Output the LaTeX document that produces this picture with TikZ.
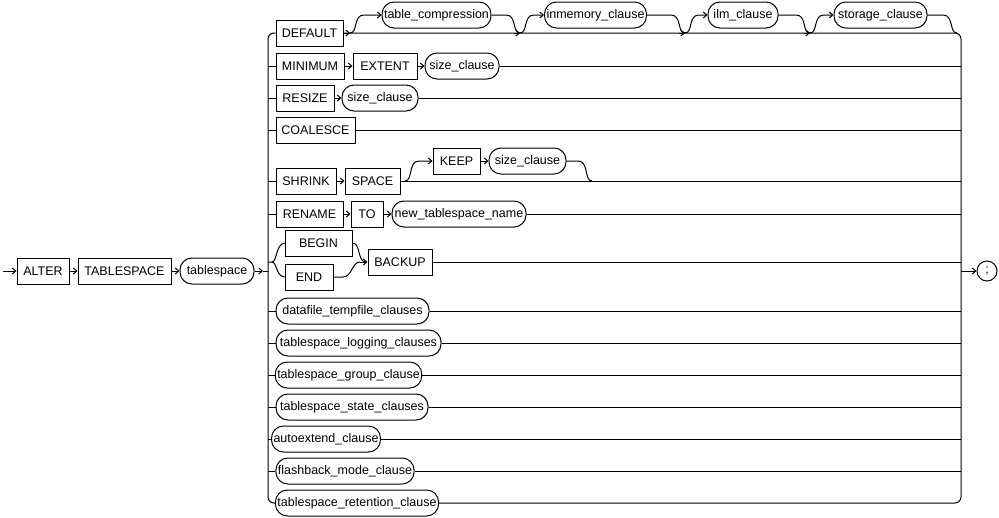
\documentclass[tikz,border=0pt]{standalone}
\usepackage{fontspec}
\setmainfont{Liberation Sans}
\usetikzlibrary{arrows.meta}
\begin{document}
\begin{tikzpicture}[x=1pt,y=-1pt,line width=1pt,
  every node/.style={font=\fontsize{12.5}{14}\selectfont,minimum height=26pt,inner sep=2pt},
  kw/.style={draw,rectangle},
  nt/.style={draw,rounded corners=12pt},
  go/.style={-{Straight Barb[length=3.5pt,width=6pt]}}]
  \useasboundingbox (0,0) rectangle (999,517);

\node [kw,minimum width=52pt] (alter) at (43,271) {ALTER};
\node [kw,minimum width=93pt] (tbs) at (124.5,271) {TABLESPACE};
\node [nt,minimum width=74pt] (tsp) at (217,271) {tablespace};
\node [draw,circle,minimum size=20pt,minimum height=20pt,inner sep=0pt] (semi) at (987,271) {;};
\coordinate (lj) at (268,271);
\coordinate (rj) at (961,271);

% DEFAULT row
\node [kw,minimum width=67pt] (default) at (309.5,33) {DEFAULT};
\node [nt,minimum width=107pt] (tcomp) at (436.5,15) {table\_compression};
\node [nt,minimum width=99pt] (inmem) at (595.5,15) {inmemory\_clause};
\node [nt,minimum width=70pt] (ilm) at (743,15) {ilm\_clause};
\node [nt,minimum width=93pt] (storage) at (880.5,15) {storage\_clause};

% other rows
\node [kw,minimum width=68pt] (minimum) at (310,66) {MINIMUM};
\node [kw,minimum width=64pt] (extent) at (385,66) {EXTENT};
\node [nt,minimum width=74pt] (size1) at (462,66) {size\_clause};
\node [kw,minimum width=58pt] (resize) at (305,98) {RESIZE};
\node [nt,minimum width=76pt] (size2) at (380,98) {size\_clause};
\node [kw,minimum width=79pt] (coalesce) at (315.5,130) {COALESCE};
\node [kw,minimum width=60pt] (shrink) at (306,181) {SHRINK};
\node [kw,minimum width=55pt] (space) at (372.5,181) {SPACE};
\node [kw,minimum width=47pt] (keep) at (456.5,161) {KEEP};
\node [nt,minimum width=77pt] (size3) at (527.5,161) {size\_clause};
\node [kw,minimum width=67pt] (rename) at (309.5,214) {RENAME};
\node [kw,minimum width=32pt] (to) at (367,214) {TO};
\node [nt,minimum width=134pt] (newts) at (459,214) {new\_tablespace\_name};
\node [kw,minimum width=67pt] (begin) at (318.5,243) {BEGIN};
\node [kw,minimum width=48pt] (end) at (309,277) {END};
\node [kw,minimum width=64pt] (backup) at (400,262) {BACKUP};
\node [nt,minimum width=153pt] (datafile) at (352.5,311) {datafile\_tempfile\_clauses};
\node [nt,minimum width=165pt] (logging) at (358.5,343) {tablespace\_logging\_clauses};
\node [nt,minimum width=145pt] (group) at (348.5,375) {tablespace\_group\_clause};
\node [nt,minimum width=152pt] (state) at (352,407) {tablespace\_state\_clauses};
\node [nt,minimum width=100pt] (autoext) at (326,439) {autoextend\_clause};
\node [nt,minimum width=138pt] (flash) at (345,471) {flashback\_mode\_clause};
\node [nt,minimum width=162pt] (retent) at (357,503) {tablespace\_retention\_clause};

% main line
\draw [go] (3,271) -- (alter);
\draw [go] (alter) -- (tbs);
\draw [go] (tbs) -- (tsp);
\draw [go] (tsp) -- (263,271);
\draw (263,271) -- (lj);
\draw [go] (rj) -- (semi);

% rails
\draw [rounded corners=6pt] (default.west) -- (268,33) -- (268,503) -- (retent.west);
\draw [rounded corners=6pt] (default.east) -- (961,33) -- (961,503) -- (retent.east);

% optional clauses after DEFAULT
\draw [go] (default.east) -- (350,33);
\foreach \n/\a/\b in {tcomp/350/520,inmem/520/685,ilm/685/810,storage/810/957}{
  \draw [go] (\a,33) .. controls (\a+8,33) and (\a+3,15) .. (\a+14,15) -- (\n.west);
  \draw (\n.east) -- (\b-14,15) .. controls (\b-3,15) and (\b-8,33) .. (\b,33);
}
\foreach \b in {520,685,810}{
  \draw [go] (\b-6,33) -- (\b,33);
}

\foreach \n in {minimum,resize,coalesce,shrink,rename,datafile,logging,group,state,autoext,flash}{
  \draw (268,0 |- \n.west) -- (\n.west);
}
\draw [go] (minimum) -- (extent);
\draw [go] (extent) -- (size1);
\draw (size1.east) -- (961,66);
\draw [go] (resize) -- (size2);
\draw (size2.east) -- (961,98);
\draw (coalesce.east) -- (961,130);

\draw [go] (shrink) -- (space);
\draw (space.east) -- (961,181);
\draw [go] (405,181) .. controls (413,181) and (408,161) .. (419,161) -- (keep.west);
\draw [go] (keep) -- (size3);
\draw (size3.east) -- (578,161) .. controls (589,161) and (584,181) .. (592,181);

\draw [go] (rename) -- (to);
\draw [go] (to) -- (newts);
\draw (newts.east) -- (961,214);

% BEGIN / END
\draw (268,262) -- (272,262) .. controls (277,262) and (276,243) .. (285,243);
\draw (272,262) .. controls (277,262) and (276,277) .. (285,277);
\draw (begin.east) .. controls (361,243) and (357,262) .. (366,262);
\draw (end.east) -- (343,277) .. controls (352,277) and (352,262) .. (360,262);
\draw [go] (360,262) -- (backup);
\draw (backup.east) -- (961,262);

\foreach \n in {datafile,logging,group,state,autoext,flash}{
  \draw (\n.east) -- (961,0 |- \n.east);
}
\end{tikzpicture}
\end{document}
